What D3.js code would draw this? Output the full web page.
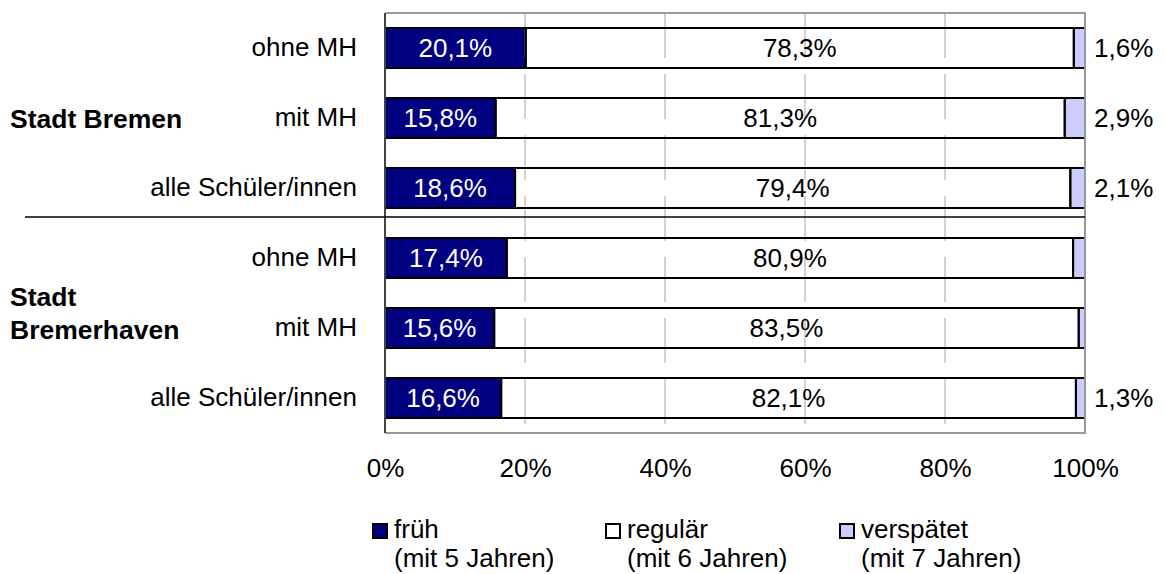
<!DOCTYPE html>
<html>
<head>
<meta charset="utf-8">
<script src="https://cdn.jsdelivr.net/npm/d3@7"></script>
<style>
  html, body { margin: 0; padding: 0; background: #fff; }
  svg { display: block; font-family: "Liberation Sans", Arial, sans-serif; }
</style>
</head>
<body>
<svg id="chart" width="1165" height="574"></svg>
<script>
// Einschulungsalter nach Migrationshintergrund (Anteile in %)
const groups = ["Stadt Bremen", "Stadt Bremerhaven"];
const categories = ["ohne MH", "mit MH", "alle Schüler/innen", "ohne MH", "mit MH", "alle Schüler/innen"];
const frueh = [20.1, 15.8, 18.6, 17.4, 15.6, 16.6];
const regulaer = [78.3, 81.3, 79.4, 80.9, 83.5, 82.1];
const verspaetet = [1.6, 2.9, 2.1, 1.7, 0.9, 1.3];
const showLateLabel = [true, true, true, false, false, true];
const tickValues = [0, 20, 40, 60, 80, 100];
const seriesNames = ["früh", "regulär", "verspätet"];
const seriesSubtitles = ["(mit 5 Jahren)", "(mit 6 Jahren)", "(mit 7 Jahren)"];

const keys = ["frueh", "regulaer", "verspaetet"];
const colors = { frueh: "#000080", regulaer: "#ffffff", verspaetet: "#ccccff" };
const rows = categories.map((c, i) => ({
  idx: i, cat: c, frueh: frueh[i], regulaer: regulaer[i], verspaetet: verspaetet[i]
}));

const svg = d3.select("#chart");
const fontSize = 26;
const plot = { left: 385, right: 1085, top: 13, bottom: 433 };

// 100 % stacked: each row is normalised to its total
const x = d3.scaleLinear().domain([0, 1]).range([plot.left, plot.right]);
const y = d3.scaleBand()
  .domain(d3.range(categories.length))
  .range([plot.top, plot.bottom])
  .paddingInner(3 / 7)
  .paddingOuter(1.5 / 7);

const stacked = d3.stack().keys(keys).offset(d3.stackOffsetExpand)(rows);

// bar fills
const fills = svg.append("g");
stacked.forEach(s => {
  fills.selectAll(null).data(s).enter().append("rect")
    .attr("x", d => x(d[0]))
    .attr("y", d => y(d.data.idx))
    .attr("width", d => x(d[1]) - x(d[0]))
    .attr("height", y.bandwidth())
    .attr("fill", colors[s.key]);
});

// dashed vertical gridlines
svg.append("g").selectAll("line")
  .data(tickValues.filter(t => t > 0 && t < 100))
  .enter().append("line")
  .attr("x1", d => x(d / 100)).attr("x2", d => x(d / 100))
  .attr("y1", plot.top).attr("y2", plot.bottom)
  .attr("stroke", "#a6a6a6").attr("stroke-width", 1)
  .attr("stroke-dasharray", "45 16");

// bar outlines
const outlines = svg.append("g");
stacked.forEach(s => {
  outlines.selectAll(null).data(s).enter().append("rect")
    .attr("x", d => x(d[0]))
    .attr("y", d => y(d.data.idx))
    .attr("width", d => x(d[1]) - x(d[0]))
    .attr("height", y.bandwidth())
    .attr("fill", "none")
    .attr("stroke", "#000").attr("stroke-width", 2);
});

// plot frame
svg.append("path")
  .attr("d", `M${plot.left},${plot.top}H${plot.right}V${plot.bottom}H${plot.left}`)
  .attr("fill", "none").attr("stroke", "#999").attr("stroke-width", 2);
svg.append("line")
  .attr("x1", plot.left).attr("x2", plot.left)
  .attr("y1", plot.top).attr("y2", plot.bottom)
  .attr("stroke", "#444").attr("stroke-width", 2);

// separator between the two cities
const sepY = y(2) + y.bandwidth() + 9;
svg.append("line")
  .attr("x1", 25).attr("x2", plot.right)
  .attr("y1", sepY).attr("y2", sepY)
  .attr("stroke", "#000").attr("stroke-width", 1.5);

// value labels
const fmt = v => d3.format(".1f")(v).replace(".", ",") + "%";
const lab = svg.append("g").attr("font-size", fontSize);
lab.selectAll(null).data(stacked[0]).enter().append("text")
  .attr("x", d => (x(d[0]) + x(d[1])) / 2)
  .attr("y", d => y(d.data.idx) + y.bandwidth() / 2)
  .attr("dy", "0.36em").attr("text-anchor", "middle").attr("fill", "#fff")
  .text(d => fmt(d.data.frueh));
lab.selectAll(null).data(stacked[1]).enter().append("text")
  .attr("x", d => (x(d[0]) + x(d[1])) / 2)
  .attr("y", d => y(d.data.idx) + y.bandwidth() / 2)
  .attr("dy", "0.36em").attr("text-anchor", "middle").attr("fill", "#000")
  .text(d => fmt(d.data.regulaer));
lab.selectAll(null).data(stacked[2].filter(d => showLateLabel[d.data.idx])).enter().append("text")
  .attr("x", plot.right + 9)
  .attr("y", d => y(d.data.idx) + y.bandwidth() / 2)
  .attr("dy", "0.36em").attr("text-anchor", "start").attr("fill", "#000")
  .text(d => fmt(d.data.verspaetet));

// category axis
const yAxis = svg.append("g")
  .attr("transform", `translate(${plot.left},0)`)
  .call(d3.axisLeft(y).tickSize(0).tickPadding(28).tickFormat(i => categories[i]));
yAxis.select(".domain").remove();
yAxis.selectAll("text").attr("font-size", fontSize).attr("font-family", null).attr("fill", "#000");

// percent axis
const xAxis = svg.append("g")
  .attr("transform", `translate(0,${plot.bottom})`)
  .call(d3.axisBottom(x).tickValues(tickValues.map(t => t / 100)).tickSize(0)
    .tickFormat(d => Math.round(d * 100) + "%"));
xAxis.select(".domain").remove();
xAxis.selectAll("text").attr("font-size", fontSize).attr("font-family", null)
  .attr("fill", "#000").attr("y", 44).attr("dy", 0);

// group labels
const gl = svg.append("g").attr("font-size", 26.5).attr("font-weight", "bold");
gl.append("text").attr("x", 10).attr("y", y(1) + y.bandwidth() / 2).attr("dy", "0.36em").text(groups[0]);
const bh = groups[1].split(" ");
gl.append("text").attr("x", 10).attr("y", 306).text(bh[0]);
gl.append("text").attr("x", 10).attr("y", 339).text(bh[1]);

// legend
const legX = [372, 605, 839];
const leg = svg.append("g").attr("font-size", fontSize);
keys.forEach((k, i) => {
  leg.append("rect")
    .attr("x", legX[i] + 1).attr("y", 524).attr("width", 14).attr("height", 14)
    .attr("fill", colors[k]).attr("stroke", "#000").attr("stroke-width", 2);
  leg.append("text").attr("x", legX[i] + 22).attr("y", 538).text(seriesNames[i]);
  leg.append("text").attr("x", legX[i] + 22).attr("y", 567).text(seriesSubtitles[i]);
});
</script>
</body>
</html>
